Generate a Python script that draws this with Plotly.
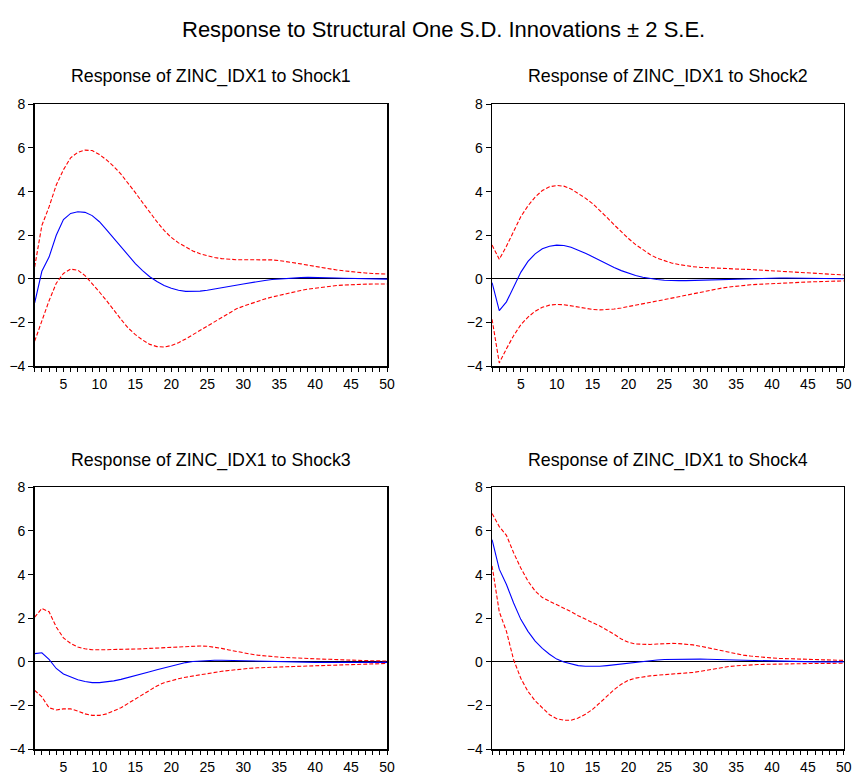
import plotly.graph_objects as go

periods = list(range(1, 51))

# Shock1
irf1 = [-1.1, 0.35, 1.0, 2.0, 2.72, 3.0, 3.08, 3.05, 2.9, 2.62,
        2.25, 1.85, 1.45, 1.05, 0.7, 0.38, 0.1, -0.12, -0.3, -0.43,
        -0.52, -0.57, -0.58, -0.56, -0.52, -0.47, -0.41, -0.35, -0.29, -0.23,
        -0.17, -0.12, -0.07, -0.03, 0.0, 0.03, 0.05, 0.06, 0.07, 0.07,
        0.06, 0.05, 0.04, 0.03, 0.02, 0.01, 0.0, 0.0, -0.01, -0.01]
up1 = [0.55, 2.45, 3.3, 4.3, 5.0, 5.55, 5.8, 5.9, 5.88, 5.7,
       5.45, 5.15, 4.8, 4.4, 3.95, 3.5, 3.05, 2.62, 2.22, 1.9,
       1.65, 1.45, 1.28, 1.15, 1.05, 0.98, 0.93, 0.9, 0.88, 0.88,
       0.88, 0.88, 0.88, 0.87, 0.84, 0.8, 0.75, 0.69, 0.63, 0.57,
       0.52, 0.46, 0.41, 0.37, 0.33, 0.3, 0.27, 0.25, 0.23, 0.22]
lo1 = [-2.85, -1.9, -1.0, -0.2, 0.25, 0.45, 0.4, 0.15, -0.2, -0.6,
       -1.0, -1.45, -1.85, -2.25, -2.55, -2.8, -3.0, -3.1, -3.12, -3.05,
       -2.92, -2.75, -2.55, -2.35, -2.15, -1.95, -1.75, -1.55, -1.38, -1.25,
       -1.13, -1.02, -0.92, -0.83, -0.75, -0.67, -0.6, -0.53, -0.47, -0.42,
       -0.37, -0.33, -0.3, -0.28, -0.26, -0.25, -0.24, -0.23, -0.23, -0.23]

# Shock2
irf2 = [-0.17, -1.45, -1.05, -0.4, 0.3, 0.8, 1.15, 1.38, 1.5, 1.55,
        1.53, 1.45, 1.33, 1.18, 1.02, 0.85, 0.68, 0.52, 0.38, 0.26,
        0.16, 0.08, 0.02, -0.03, -0.06, -0.08, -0.08, -0.08, -0.07, -0.06,
        -0.04, -0.02, -0.01, 0.0, 0.01, 0.02, 0.03, 0.03, 0.04, 0.04,
        0.04, 0.04, 0.04, 0.03, 0.03, 0.03, 0.02, 0.02, 0.02, 0.01]
up2 = [1.55, 0.9, 1.5, 2.2, 2.85, 3.35, 3.75, 4.05, 4.22, 4.28,
       4.25, 4.12, 3.92, 3.7, 3.45, 3.15, 2.82, 2.48, 2.15, 1.85,
       1.57, 1.33, 1.12, 0.95, 0.83, 0.73, 0.66, 0.6, 0.56, 0.53,
       0.51, 0.49, 0.47, 0.46, 0.45, 0.44, 0.43, 0.41, 0.4, 0.38,
       0.36, 0.34, 0.32, 0.3, 0.28, 0.26, 0.24, 0.22, 0.2, 0.18]
lo2 = [-1.85, -3.85, -3.2, -2.6, -2.1, -1.75, -1.48, -1.3, -1.2, -1.17,
       -1.18, -1.23, -1.3, -1.36, -1.4, -1.42, -1.41, -1.38, -1.33, -1.27,
       -1.2, -1.13, -1.06, -1.0, -0.95, -0.88, -0.82, -0.75, -0.68, -0.6,
       -0.53, -0.47, -0.42, -0.37, -0.33, -0.3, -0.27, -0.25, -0.23, -0.21,
       -0.2, -0.18, -0.17, -0.15, -0.14, -0.13, -0.12, -0.11, -0.1, -0.09]

# Shock3
irf3 = [0.38, 0.42, 0.12, -0.3, -0.55, -0.7, -0.82, -0.9, -0.95, -0.95,
        -0.92, -0.87, -0.8, -0.72, -0.63, -0.54, -0.45, -0.36, -0.27, -0.18,
        -0.1, -0.03, 0.02, 0.05, 0.07, 0.08, 0.08, 0.07, 0.06, 0.05,
        0.04, 0.03, 0.02, 0.01, 0.0, -0.01, -0.01, -0.02, -0.02, -0.02,
        -0.02, -0.02, -0.02, -0.02, -0.02, -0.02, -0.02, -0.02, -0.02, -0.02]
up3 = [2.05, 2.45, 2.3, 1.6, 1.1, 0.85, 0.68, 0.6, 0.56, 0.55,
       0.56, 0.57, 0.57, 0.58, 0.58, 0.6, 0.62, 0.64, 0.66, 0.68,
       0.7, 0.72, 0.73, 0.73, 0.72, 0.68, 0.62, 0.55, 0.48, 0.42,
       0.36, 0.31, 0.27, 0.24, 0.22, 0.2, 0.18, 0.17, 0.15, 0.14,
       0.13, 0.12, 0.1, 0.09, 0.08, 0.07, 0.06, 0.05, 0.05, 0.04]
lo3 = [-1.3, -1.6, -2.1, -2.2, -2.15, -2.15, -2.25, -2.38, -2.45, -2.45,
       -2.38, -2.25, -2.1, -1.9, -1.7, -1.48, -1.28, -1.1, -0.95, -0.85,
       -0.77, -0.7, -0.64, -0.58, -0.52, -0.47, -0.43, -0.39, -0.35, -0.32,
       -0.29, -0.27, -0.25, -0.24, -0.23, -0.22, -0.21, -0.2, -0.19, -0.18,
       -0.16, -0.15, -0.13, -0.12, -0.11, -0.1, -0.09, -0.08, -0.07, -0.07]

# Shock4
irf4 = [5.6, 4.25, 3.55, 2.7, 1.95, 1.4, 0.95, 0.62, 0.35, 0.13,
        0.0, -0.1, -0.17, -0.2, -0.21, -0.2, -0.17, -0.13, -0.09, -0.05,
        -0.01, 0.03, 0.06, 0.09, 0.11, 0.12, 0.13, 0.14, 0.14, 0.13,
        0.12, 0.11, 0.1, 0.09, 0.08, 0.07, 0.06, 0.05, 0.04, 0.03,
        0.03, 0.02, 0.02, 0.01, 0.01, 0.0, 0.0, 0.0, 0.0, 0.0]
up4 = [6.8, 6.2, 5.8, 5.0, 4.3, 3.7, 3.25, 2.95, 2.78, 2.62,
       2.48, 2.3, 2.12, 1.95, 1.8, 1.65, 1.47, 1.27, 1.05, 0.9,
       0.82, 0.8, 0.8, 0.82, 0.84, 0.85, 0.84, 0.82, 0.78, 0.72,
       0.65, 0.58, 0.5, 0.43, 0.37, 0.31, 0.27, 0.23, 0.2, 0.18,
       0.16, 0.15, 0.14, 0.13, 0.12, 0.11, 0.1, 0.09, 0.08, 0.07]
lo4 = [4.4, 2.3, 1.4, 0.1, -0.75, -1.35, -1.78, -2.12, -2.42, -2.6,
       -2.67, -2.67, -2.57, -2.4, -2.17, -1.88, -1.57, -1.27, -1.02, -0.84,
       -0.74, -0.68, -0.64, -0.61, -0.59, -0.57, -0.55, -0.52, -0.48, -0.43,
       -0.37, -0.31, -0.26, -0.21, -0.18, -0.15, -0.13, -0.12, -0.11, -0.1,
       -0.1, -0.09, -0.09, -0.08, -0.08, -0.07, -0.07, -0.07, -0.06, -0.06]

panel_titles = ["Response of ZINC_IDX1 to Shock1", "Response of ZINC_IDX1 to Shock2",
                "Response of ZINC_IDX1 to Shock3", "Response of ZINC_IDX1 to Shock4"]
main_title = "Response to Structural One S.D. Innovations \u00b1 2 S.E."
x_ticks = [5, 10, 15, 20, 25, 30, 35, 40, 45, 50]
y_ticks = [-4, -2, 0, 2, 4, 6, 8]

series = [(irf1, up1, lo1), (irf2, up2, lo2), (irf3, up3, lo3), (irf4, up4, lo4)]

W, H = 861, 783
xdoms = [[35 / W, 390.7 / W], [496.7 / W, 851.7 / W]]
ydoms = [[1 - 365.7 / H, 1 - 98.3 / H], [1 - 756.7 / H, 1 - 489.3 / H]]

FONT = "Liberation Sans, Arial, sans-serif"
fig = go.Figure()
layout = dict(width=W, height=H, margin=dict(l=0, r=0, t=0, b=0),
              paper_bgcolor="white", plot_bgcolor="white", showlegend=False,
              font=dict(family=FONT, color="black"))
annotations = []
for i, (irf, up, lo) in enumerate(series):
    row, col = divmod(i, 2)
    sfx = "" if i == 0 else str(i + 1)
    xa, ya = "x" + sfx, "y" + sfx
    for vals, color, dash in ((up, "#FF0000", "4px,2px"), (lo, "#FF0000", "4px,2px"),
                              (irf, "#0000FF", "solid")):
        fig.add_trace(go.Scatter(x=periods, y=vals, mode="lines", xaxis=xa, yaxis=ya,
                                 line=dict(color=color, width=1.1, dash=dash),
                                 hoverinfo="skip"))
    layout["xaxis" + sfx] = dict(domain=xdoms[col], anchor=ya, range=[1, 50],
                                 tickmode="array", tickvals=x_ticks,
                                 ticks="outside", ticklen=4, tickcolor="black",
                                 showline=True, linecolor="black", linewidth=1.5, mirror=True,
                                 showgrid=False, zeroline=False,
                                 tickfont=dict(size=14, family=FONT, color="black"),
                                 minor=dict(dtick=1, tick0=1, ticks="outside", ticklen=4,
                                            tickcolor="black", showgrid=False))
    layout["yaxis" + sfx] = dict(domain=ydoms[row], anchor=xa, range=[-4, 8],
                                 tickmode="array", tickvals=y_ticks,
                                 ticks="outside", ticklen=5, tickcolor="black",
                                 showline=True, linecolor="black", linewidth=1.5, mirror=True,
                                 showgrid=False, zeroline=True, zerolinecolor="black",
                                 zerolinewidth=1,
                                 tickfont=dict(size=14, family=FONT, color="black"))
    cx = (xdoms[col][0] + xdoms[col][1]) / 2
    ty = (1 - 70 / H) if row == 0 else (1 - 462 / H)
    annotations.append(dict(text=panel_titles[i], x=cx, y=ty, xref="paper", yref="paper",
                            xanchor="center", yanchor="middle", showarrow=False,
                            font=dict(size=17.8, family=FONT, color="black")))

annotations.append(dict(text=main_title, x=448 / W, y=1 - 21.7 / H, xref="paper", yref="paper",
                        xanchor="center", yanchor="middle", showarrow=False,
                        font=dict(size=22, family=FONT, color="black")))
layout["annotations"] = annotations
fig.update_layout(**layout)
fig.write_html("out.html", config={"displayModeBar": False, "staticPlot": True},
               post_script="document.body.style.margin='0';document.body.style.overflow='hidden';")
